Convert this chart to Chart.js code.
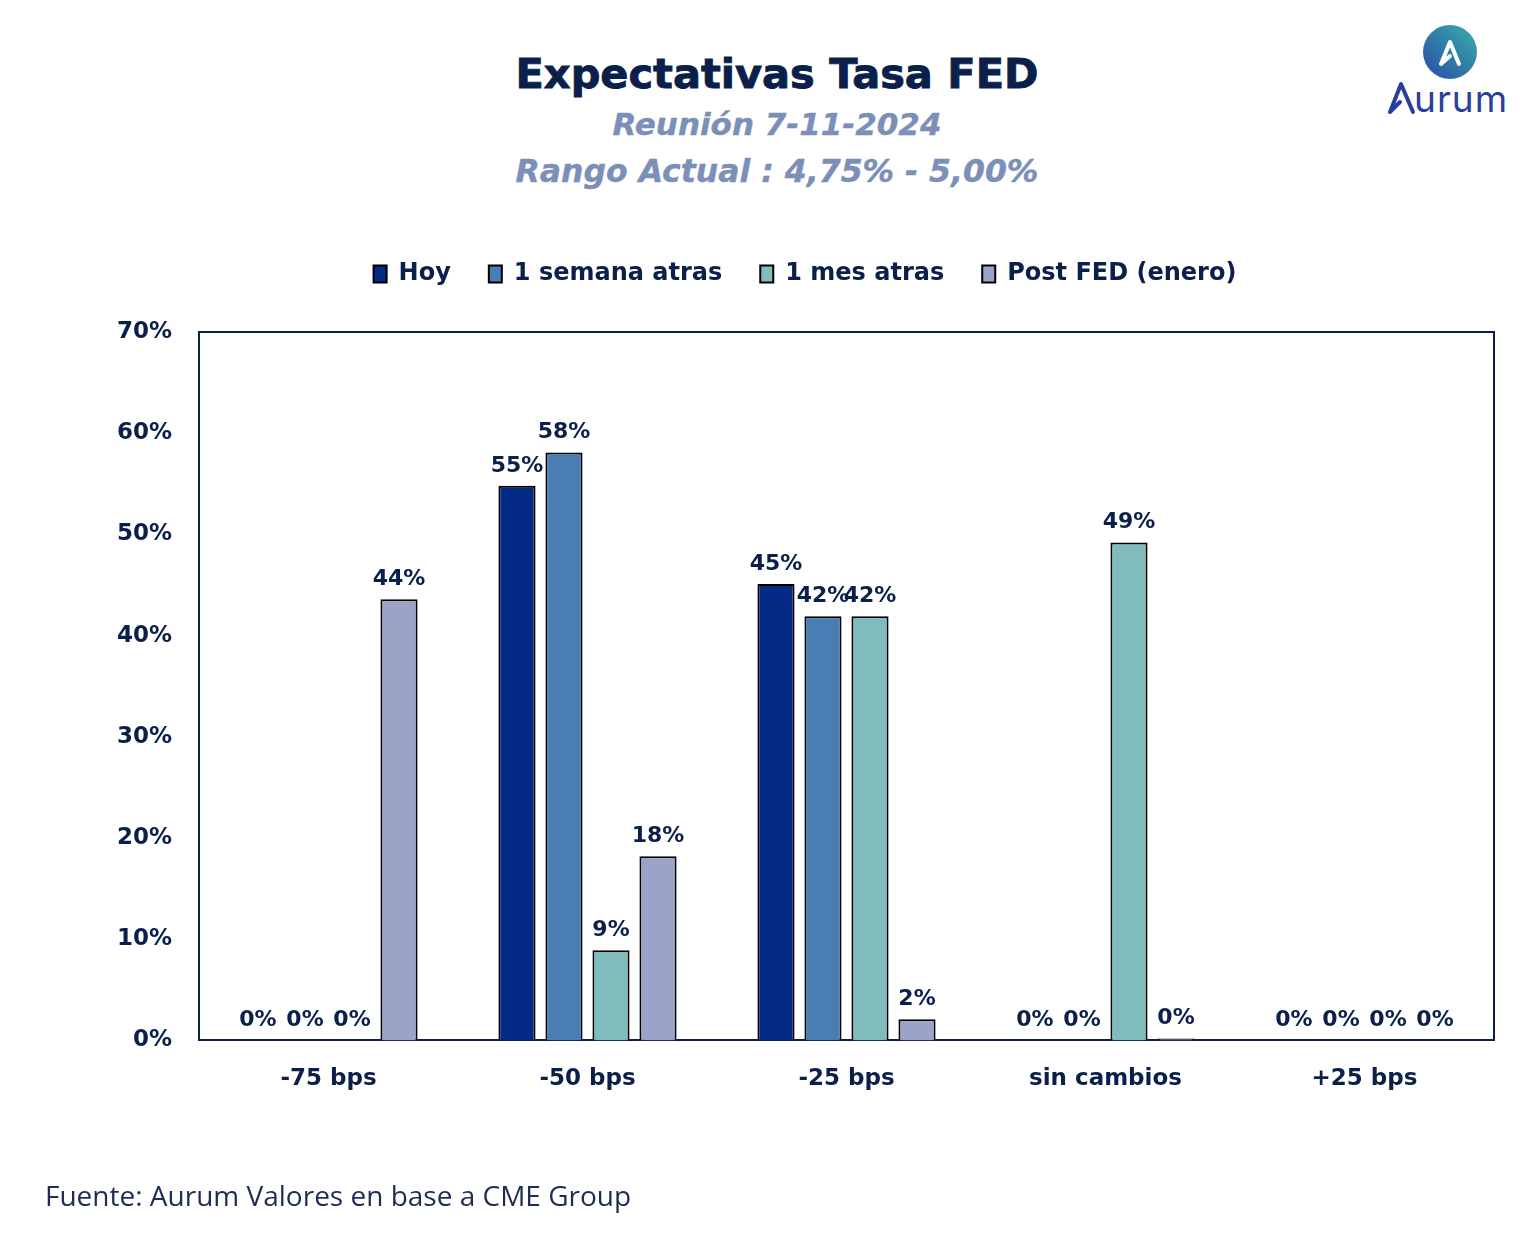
<!DOCTYPE html>
<html>
<head>
<meta charset="utf-8">
<script src="https://cdn.jsdelivr.net/npm/chart.js@4.4.0/dist/chart.umd.min.js"></script>
<style>
  body { margin: 0; background: #fff; width: 1540px; height: 1260px; position: relative; overflow: hidden; }
  #chart { position: absolute; left: 0; top: 0; }
  .title { position: absolute; left: 0; width: 1554px; text-align: center; font-family: "DejaVu Sans", Verdana, sans-serif; font-weight: bold; white-space: nowrap; }
  #t1 { top: 49px; font-size: 41.5px; color: #0b1f4b; -webkit-text-stroke: 0.9px #0b1f4b; }
  #t2 { top: 106px; font-size: 31px; font-style: italic; color: #7b8fb9; -webkit-text-stroke: 0.4px #7b8fb9; }
  #t3 { top: 153px; font-size: 31.5px; font-style: italic; color: #7b8fb9; -webkit-text-stroke: 0.4px #7b8fb9; }
  #src { position: absolute; left: 45px; top: 1176px; font-family: "Open Sans", sans-serif; font-size: 28px; color: #1f2d55; }
  #logo { position: absolute; left: 1384px; top: 20px; }
</style>
</head>
<body>
<div class="title" id="t1">Expectativas Tasa FED</div>
<div class="title" id="t2">Reunión 7-11-2024</div>
<div class="title" id="t3">Rango Actual : 4,75% - 5,00%</div>
<svg id="logo" width="140" height="100" viewBox="0 0 140 100">
  <defs>
    <linearGradient id="g" x1="0" y1="1" x2="1" y2="0">
      <stop offset="0" stop-color="#2a4aa8"/>
      <stop offset="1" stop-color="#37b0a8"/>
    </linearGradient>
  </defs>
  <circle cx="66" cy="32" r="27" fill="url(#g)"/>
  <path d="M57 44 L66 22 L75 44 M57 44 L66 36" fill="none" stroke="#fff" stroke-width="4" stroke-linejoin="round" stroke-linecap="round"/>
  <path d="M6 92 L17 64 L29 92 M6 92 L16 82" fill="none" stroke="#2a3f9a" stroke-width="4" stroke-linejoin="round" stroke-linecap="round"/>
  <text x="30" y="92" font-family="Inter, sans-serif" font-size="37" letter-spacing="1" fill="#2a3f9a">urum</text>
</svg>
<canvas id="chart" width="1540" height="1260"></canvas>
<div id="src">Fuente: Aurum Valores en base a CME Group</div>
<script>
// ---------- DATA ----------
const categories = ["-75 bps", "-50 bps", "-25 bps", "sin cambios", "+25 bps"];
const hoy = [0, 54.8, 45.1, 0, 0];
const semanaAtras = [0, 58.1, 41.9, 0, 0];
const mesAtras = [0, 8.9, 41.9, 49.2, 0];
const postFed = [43.6, 18.2, 2.1, 0.2, 0];
const yTicks = [0, 10, 20, 30, 40, 50, 60, 70];

const navy = "#0b1f4b";
const boldFont = "'DejaVu Sans', Verdana, sans-serif";

// ---------- DATA LABELS ----------
const barLabels = {
  id: "barLabels",
  afterDatasetsDraw(chart) {
    const ctx = chart.ctx;
    ctx.save();
    ctx.font = "bold 22px " + boldFont;
    ctx.fillStyle = navy;
    ctx.textAlign = "center";
    ctx.textBaseline = "middle";
    chart.data.datasets.forEach((ds, i) => {
      chart.getDatasetMeta(i).data.forEach((bar, j) => {
        const v = ds.data[j];
        ctx.fillText(Math.round(v) + "%", bar.x, bar.y - 20);
      });
    });
    ctx.restore();
  }
};

function bars(label, data, color) {
  return {
    label,
    data,
    backgroundColor: color,
    borderColor: "#000",
    borderWidth: c => (c.raw > 0 ? 2 : 0),
    borderSkipped: "bottom",
    categoryPercentage: 0.726,
    barPercentage: 0.79
  };
}

new Chart(document.getElementById("chart"), {
  type: "bar",
  data: {
    labels: categories,
    datasets: [
      bars("Hoy", hoy, "#032b86"),
      bars("1 semana atras", semanaAtras, "#4a7db4"),
      bars("1 mes atras", mesAtras, "#7fbcbb"),
      bars("Post FED (enero)", postFed, "#9aa3c8")
    ]
  },
  options: {
    responsive: false,
    animation: false,
    layout: { padding: { top: 224, right: 46, bottom: 142, left: 116 } },
    plugins: {
      legend: {
        position: "top",
        labels: {
          boxWidth: 13,
          boxHeight: 17,
          padding: 38,
          color: navy,
          font: { family: boldFont, size: 24, weight: "bold" },
          generateLabels(chart) {
            return chart.data.datasets.map((ds, i) => ({
              text: ds.label,
              fillStyle: ds.backgroundColor,
              strokeStyle: "#000",
              fontColor: navy,
              lineWidth: 2,
              datasetIndex: i
            }));
          }
        }
      },
      tooltip: { enabled: false }
    },
    scales: {
      x: {
        grid: { display: false, drawTicks: false },
        border: { display: true, color: navy, width: 2 },
        ticks: {
          padding: 25,
          color: navy,
          font: { family: boldFont, size: 23, weight: "bold" }
        }
      },
      y: {
        min: 0,
        max: 70,
        grid: { display: false, drawTicks: false },
        border: { display: true, color: navy, width: 2 },
        afterBuildTicks(s) { s.ticks = yTicks.map(v => ({ value: v })); },
        afterFit(s) { s.width = 83; },
        ticks: {
          padding: 27,
          color: navy,
          font: { family: boldFont, size: 23, weight: "bold" },
          callback: v => v + "%"
        }
      },
      x2: {
        position: "top",
        grid: { display: false, drawTicks: false },
        border: { display: true, color: navy, width: 2 },
        ticks: { display: false },
        afterFit(s) { s.height = 36; }
      },
      y2: {
        position: "right",
        grid: { display: false, drawTicks: false },
        border: { display: true, color: navy, width: 2 },
        ticks: { display: false }
      }
    }
  },
  plugins: [barLabels]
});
</script>
</body>
</html>
